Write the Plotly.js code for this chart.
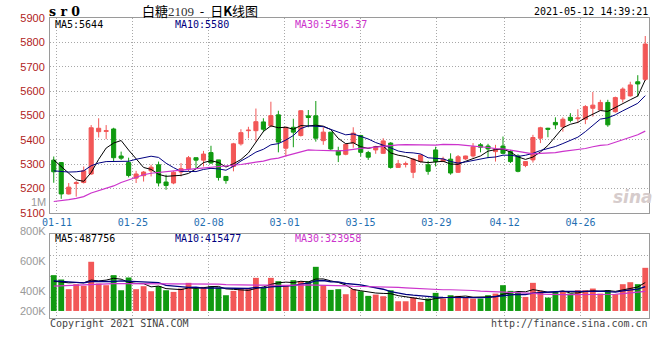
<!DOCTYPE html>
<html><head><meta charset="utf-8">
<script src="https://cdn.plot.ly/plotly-3.0.1.min.js"></script>
<style>html,body{margin:0;padding:0;background:#fff}#chart{width:660px;height:360px}</style>
</head><body><div id="chart"></div>
<script>
// ---- data ----
const dates = ['01-08','01-11','01-12','01-13','01-14','01-15','01-18','01-19','01-20','01-21','01-22',
 '01-25','01-26','01-27','01-28','01-29','02-01','02-02','02-03','02-04','02-05','02-08','02-09','02-10',
 '02-18','02-19','02-22','02-23','02-24','02-25','02-26','03-01','03-02','03-03','03-04','03-05',
 '03-08','03-09','03-10','03-11','03-12','03-15','03-16','03-17','03-18','03-19','03-22','03-23','03-24',
 '03-25','03-26','03-29','03-30','03-31','04-01','04-02','04-06','04-07','04-08','04-09','04-12','04-13',
 '04-14','04-15','04-16','04-19','04-20','04-21','04-22','04-23','04-26','04-27','04-28','04-29','04-30',
 '05-06','05-07','05-10','05-11','05-12'];
const open = [5316,5306,5177,5220,5224,5259,5433,5434,5444,5333, 5306,5242,5252,5272,5297,5226,5222,5267,5281,5326,
 5316,5347,5317,5249,5290,5383,5437,5437,5473,5457, 5502,5365,5451,5417,5498,5498,5396,5431,5355,5340,
 5386,5417,5347,5358,5344,5386,5286,5298,5266,5310, 5297,5358,5310,5320,5266,5321,5333,5379,5374,5351,
 5374,5351,5333,5294,5317,5406,5447,5471,5453,5492, 5486,5484,5529,5522,5553,5515,5567,5580,5638,5648];
const high = [5331,5308,5222,5230,5290,5460,5488,5460,5449,5351, 5326,5272,5271,5297,5310,5256,5271,5304,5333,5326,
 5354,5375,5317,5251,5387,5443,5453,5528,5488,5556, 5519,5452,5486,5521,5522,5559,5451,5431,5371,5383,
 5451,5420,5354,5375,5406,5390,5317,5310,5324,5340, 5313,5371,5330,5344,5337,5334,5386,5386,5383,5379,
 5413,5358,5340,5312,5420,5453,5449,5492,5492,5509, 5525,5542,5596,5564,5564,5577,5615,5638,5665,5826];
const low = [5223,5157,5175,5166,5220,5256,5409,5402,5310,5317, 5245,5222,5228,5249,5208,5194,5217,5249,5270,5283,
 5290,5301,5232,5219,5270,5376,5406,5392,5431,5451, 5348,5331,5369,5413,5451,5392,5379,5358,5308,5336,
 5367,5331,5317,5342,5342,5281,5286,5286,5242,5306, 5256,5290,5310,5256,5263,5317,5326,5348,5324,5310,
 5340,5304,5266,5287,5306,5386,5410,5443,5433,5471, 5468,5464,5495,5522,5453,5511,5553,5577,5577,5642];
const close = [5268,5177,5205,5223,5272,5449,5447,5437,5326,5324, 5253,5259,5267,5287,5222,5212,5266,5281,5326,5316,
 5341,5304,5245,5232,5383,5429,5439,5474,5443,5499, 5390,5451,5431,5519,5491,5406,5431,5362,5337,5381,
 5427,5348,5328,5371,5395,5286,5301,5301,5320,5337, 5270,5310,5320,5263,5330,5333,5371,5369,5362,5361,
 5344,5310,5270,5310,5409,5449,5443,5461,5484,5479, 5489,5536,5542,5553,5461,5573,5608,5625,5629,5793];
const volume = [610000,536000,371000,456000,428000,838000,467000,439000,610000,353000,
 570000,371000,422000,336000,422000,353000,325000,382000,479000,382000,
 410000,422000,399000,268000,342000,371000,371000,564000,393000,564000,
 507000,428000,524000,507000,507000,752000,439000,359000,371000,285000,
 371000,336000,257000,279000,251000,353000,165000,165000,228000,154000,
 211000,308000,211000,268000,257000,228000,211000,211000,268000,296000,
 439000,342000,314000,239000,479000,342000,228000,325000,336000,296000,
 353000,353000,382000,296000,353000,285000,456000,490000,456000,735000];
// moving-average values before a full window is visible
const ma5Head = [5317,5290,5262,5235];
const ma10Head = [5272,5269,5267,5268,5272,5293,5304,5310,5311];
const ma30Head = [5146,5149,5154,5159,5166,5181,5191,5200,5210,5224,5234,5246,5256,5262,5266,5269,5272,5275,5278,5281,5284,5286,5288,5290,5294,5298,5303,5308,5312];
const vma5Head = [507000,496000,479000,485000];
const vma10Head = [513000,502000,490000,485000,479000,502000,502000,496000,502000];
const vma30Head = [422000,428000,433000,439000,445000,456000,462000,462000,467000,467000,467000,467000,467000,467000,467000,462000,462000,462000,456000,456000,456000,456000,456000,450000,445000,439000,439000,439000,439000];
const tickDates = ['01-11','01-25','02-08','03-01','03-15','03-29','04-12','04-26'];
const priceTicks = [5100,5200,5300,5400,5500,5600,5700,5800,5900];
const volLabels = ['1M','800K','600K','400K','200K'];
const priceMALabels = ['MA5:5644','MA10:5580','MA30:5436.37'];
const volMALabels = ['MA5:487756','MA10:415477','MA30:323958'];

// ---- styling ----
const RED = '#f25757', GREEN = '#109a10';
const C_MA5 = '#000000', C_MA10 = '#000080', C_MA30 = '#cc33cc';
const MONO = 'DejaVu Sans Mono';
const idx = dates.map((d, i) => i);

function movingAvg(arr, n, head) {
  return arr.map((v, i) => {
    if (i < n - 1) return head[i];
    let s = 0; for (let k = i - n + 1; k <= i; k++) s += arr[k];
    return s / n;
  });
}
const ma5 = movingAvg(close, 5, ma5Head), ma10 = movingAvg(close, 10, ma10Head), ma30 = movingAvg(close, 30, ma30Head);
const vma5 = movingAvg(volume, 5, vma5Head), vma10 = movingAvg(volume, 10, vma10Head), vma30 = movingAvg(volume, 30, vma30Head);
const volColors = close.map((c, i) => c >= open[i] ? RED : GREEN);
// grid lines in the original sit slightly off the candle centres
const tickvals = tickDates.map(d => dates.indexOf(d) * 1.0133 - 0.58);

const traces = [
  {type:'candlestick', x: idx, open, high, low, close, xaxis:'x', yaxis:'y', whiskerwidth:0, hoverinfo:'skip',
   increasing:{line:{color:RED, width:1}, fillcolor:RED}, decreasing:{line:{color:GREEN, width:1}, fillcolor:GREEN}},
  {type:'scatter', mode:'lines', x: idx, y: ma5, xaxis:'x', yaxis:'y', line:{color:C_MA5, width:1}, hoverinfo:'skip'},
  {type:'scatter', mode:'lines', x: idx, y: ma10, xaxis:'x', yaxis:'y', line:{color:C_MA10, width:1}, hoverinfo:'skip'},
  {type:'scatter', mode:'lines', x: idx, y: ma30, xaxis:'x', yaxis:'y', line:{color:C_MA30, width:1.2}, hoverinfo:'skip'},
  {type:'bar', x: idx, y: volume, xaxis:'x2', yaxis:'y2', width:0.78, marker:{color: volColors, line:{width:0}}, hoverinfo:'skip'},
  {type:'scatter', mode:'lines', x: idx, y: vma5, xaxis:'x2', yaxis:'y2', line:{color:C_MA5, width:1}, hoverinfo:'skip'},
  {type:'scatter', mode:'lines', x: idx, y: vma10, xaxis:'x2', yaxis:'y2', line:{color:C_MA10, width:1.3}, hoverinfo:'skip'},
  {type:'scatter', mode:'lines', x: idx, y: vma30, xaxis:'x2', yaxis:'y2', line:{color:C_MA30, width:1.2}, hoverinfo:'skip'}
];

// pixel -> paper helpers (plot area 50..649 x 18..318)
const PX = px => (px - 50) / 599, PY = py => (318 - py) / 300;
function ann(text, px, py, xanchor, font) {
  return {xref:'paper', yref:'paper', x: PX(px), y: PY(py), text, showarrow:false, xanchor, yanchor:'middle', font, borderpad:0};
}
const annotations = [
  ann('<b>s r 0</b>', 48, 11.5, 'left', {family:'DejaVu Serif', size:12.5, color:'#000'}),
  ann('白糖<span style="font-family:Liberation Serif;color:#333">2109</span>&nbsp; - &nbsp;日<b>K</b>线图', 200, 10.8, 'center', {family:'Noto Sans CJK SC', size:13, color:'#000'}),
  ann('2021-05-12 14:39:21', 649, 11.8, 'right', {family:MONO, size:10, color:'#000'}),
  ann(priceMALabels[0], 54, 24.3, 'left', {family:MONO, size:10, color:C_MA5}),
  ann(priceMALabels[1], 174, 24.3, 'left', {family:MONO, size:10, color:C_MA10}),
  ann(priceMALabels[2], 294, 24.3, 'left', {family:MONO, size:10, color:C_MA30}),
  ann(volMALabels[0], 54, 238, 'left', {family:MONO, size:10, color:C_MA5}),
  ann(volMALabels[1], 174, 238, 'left', {family:MONO, size:10, color:C_MA10}),
  ann(volMALabels[2], 294, 238, 'left', {family:MONO, size:10, color:C_MA30}),
  ann('Copyright 2021 SINA.COM', 49, 323.7, 'left', {family:MONO, size:10, color:'#444'}),
  ann('http://finance.sina.com.cn', 649, 323.7, 'right', {family:MONO, size:10, color:'#444'}),
  ann('<b><i>sina</i></b>', 633, 197, 'center', {family:'DejaVu Sans', size:17, color:'#d6cccc'})
];
const volLabelY = [201.5, 231, 260.7, 290.7, 310.7];
volLabels.forEach((t, i) => annotations.push(ann(t, 47, volLabelY[i], 'right', {family:'Liberation Sans', size:11, color:'#999'})));

const gridStyle = {showgrid:true, gridcolor:'#a8a8a8', griddash:'1px,2px', gridwidth:1, zeroline:false,
  showline:true, mirror:true, linecolor:'#9a9a9a', linewidth:1, ticks:'', fixedrange:true};

const layout = {
  width:660, height:360, margin:{l:50, r:11, t:18, b:42}, paper_bgcolor:'#fff', plot_bgcolor:'#fff',
  showlegend:false, boxgap:0.22, bargap:0.2, hovermode:false,
  xaxis: Object.assign({}, gridStyle, {anchor:'y', domain:[0,1], range:[-0.5,79.5], tickmode:'array', tickvals, ticktext:tickDates,
    tickfont:{family:MONO, size:10, color:'#1f6fb2'}, rangeslider:{visible:false}}),
  yaxis: Object.assign({}, gridStyle, {anchor:'x', domain:[0.351,1], range:[5100,5900], tickmode:'array', tickvals:priceTicks,
    tickfont:{family:'Liberation Sans', size:11, color:'#b01c1c'}, ticklabelstandoff:2}),
  xaxis2: Object.assign({}, gridStyle, {anchor:'y2', domain:[0,1], range:[-0.5,79.5], tickmode:'array', tickvals, showticklabels:false}),
  yaxis2: Object.assign({}, gridStyle, {anchor:'x2', domain:[0,0.279], range:[-120000,1306000], tick0:-120000, dtick:356500, tickmode:'linear', showticklabels:false}),
  annotations
};
Plotly.newPlot('chart', traces, layout, {staticPlot:true, displayModeBar:false});
</script></body></html>
